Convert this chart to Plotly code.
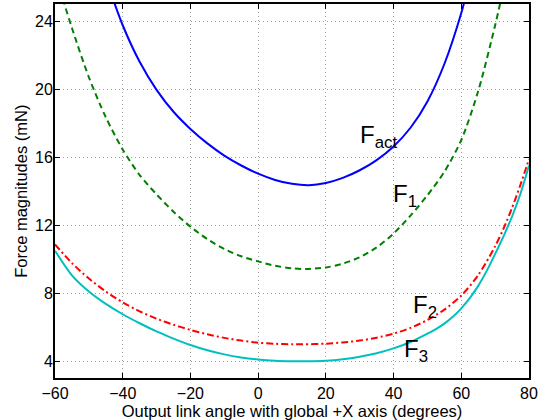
import plotly.graph_objects as go

# ---- data ----
fact_angle = [-45, -40, -35, -30, -25, -20, -15, -10, -5, 0, 5, 10, 15, 20, 25, 30, 35, 40, 45, 50, 55, 60, 62]
fact_force = [26.5, 23.75, 21.6, 19.95, 18.66, 17.65, 16.8, 16.08, 15.5, 15.02, 14.65, 14.42, 14.34, 14.47,
              14.77, 15.22, 15.82, 16.62, 17.72, 19.27, 21.47, 24.47, 26.0]

f1_angle = [-60, -57.5, -55, -50, -45, -40, -35, -30, -25, -20, -15, -10, -5, 0, 5, 10, 14,
            20, 25, 30, 35, 40, 45, 50, 55, 60, 65, 70, 72]
f1_force = [27.0, 25.19, 23.59, 20.69, 18.34, 16.44, 14.94, 13.8, 12.78, 11.9, 11.17, 10.59, 10.16, 9.86,
            9.6, 9.45, 9.41, 9.5, 9.73, 10.1, 10.68, 11.5, 12.55, 13.75, 15.13, 17.0, 19.88, 23.75, 25.5]

f2_angle = [-60, -55, -50, -45, -40, -35, -30, -25, -20, -15, -10, -5, 0, 5, 10, 13,
            20, 25, 30, 35, 40, 45, 50, 55, 60, 65, 70, 72.5, 75, 77.5, 80]
f2_force = [10.86, 9.76, 8.85, 8.09, 7.45, 6.92, 6.49, 6.13, 5.83, 5.57, 5.36, 5.2, 5.08, 5.015, 4.985, 4.98,
            5.02, 5.09, 5.2, 5.37, 5.61, 5.95, 6.41, 7.02, 7.85, 9.05, 10.75, 11.8, 13.01, 14.38, 15.88]

f3_angle = [-60, -55, -50, -45, -40, -35, -30, -25, -20, -15, -10, -5, 0, 5, 10, 14.6,
            20, 25, 30, 35, 40, 45, 50, 52.5, 55, 57.5, 60, 62.5, 65, 67.5, 70, 72.5, 75, 77.5, 80]
f3_force = [10.49, 9.04, 8.09, 7.36, 6.75, 6.22, 5.74, 5.32, 4.94, 4.63, 4.39, 4.21, 4.09, 4.02, 3.99, 3.98,
            4.01, 4.10, 4.25, 4.46, 4.74, 5.12, 5.61, 5.88, 6.2, 6.6, 7.1, 7.7, 8.42, 9.3, 10.3, 11.35, 12.5,
            13.85, 15.5]

x_ticks = [-60, -40, -20, 0, 20, 40, 60, 80]
y_ticks = [4, 8, 12, 16, 20, 24]

labels = [
    ("F<sub>act</sub>", 29.4, 17.2),
    ("F<sub>1</sub>", 39.1, 13.75),
    ("F<sub>2</sub>", 45.0, 7.18),
    ("F<sub>3</sub>", 42.4, 4.6),
]

FONT = "Liberation Sans, Arial, Helvetica, sans-serif"

fig = go.Figure()
fig.add_trace(go.Scatter(x=fact_angle, y=fact_force, mode="lines",
                         line=dict(color="#0000ff", width=2, shape="spline", smoothing=0.8)))
fig.add_trace(go.Scatter(x=f1_angle, y=f1_force, mode="lines",
                         line=dict(color="#008000", width=2, dash="6px,4px", shape="spline", smoothing=0.8)))
fig.add_trace(go.Scatter(x=f2_angle, y=f2_force, mode="lines",
                         line=dict(color="#ff0000", width=2, dash="7px,3px,2px,3px", shape="spline", smoothing=0.8)))
fig.add_trace(go.Scatter(x=f3_angle, y=f3_force, mode="lines",
                         line=dict(color="#00bfbf", width=2, shape="spline", smoothing=0.8)))

for txt, xv, yv in labels:
    fig.add_annotation(x=xv, y=yv, xref="x", yref="y", text=txt, showarrow=False,
                       xanchor="left", yanchor="middle",
                       font=dict(family=FONT, size=24, color="black"))

# y-axis title as rotated annotation
fig.add_annotation(x=-0.072, y=0.5, xref="paper", yref="paper", text="Force magnitudes (mN)",
                   textangle=-90, showarrow=False, xanchor="center", yanchor="middle",
                   font=dict(family=FONT, size=16.5, color="black"))

axis_common = dict(
    showline=True, linecolor="black", linewidth=2, mirror="ticks",
    ticks="inside", ticklen=5, tickcolor="black", tickwidth=1,
    showgrid=True, gridcolor="#a0a0a0", gridwidth=1, griddash="1px,3px",
    zeroline=False, tickfont=dict(family=FONT, size=16, color="black"),
)

fig.update_xaxes(range=[-60, 80], tickvals=x_ticks,
                 title=dict(text="Output link angle with global +X axis (degrees)",
                            font=dict(family=FONT, size=16.5, color="black"), standoff=0),
                 **axis_common)
fig.update_yaxes(range=[3, 25], tickvals=y_ticks, ticklabelstandoff=-3, **axis_common)

fig.update_layout(
    width=555, height=420,
    margin=dict(l=55, r=26, t=4, b=42, pad=0, autoexpand=False),
    paper_bgcolor="white", plot_bgcolor="white",
    showlegend=False,
)

fig.write_html("out.html", config={"displayModeBar": False},
               post_script="document.body.style.margin='0px';")
